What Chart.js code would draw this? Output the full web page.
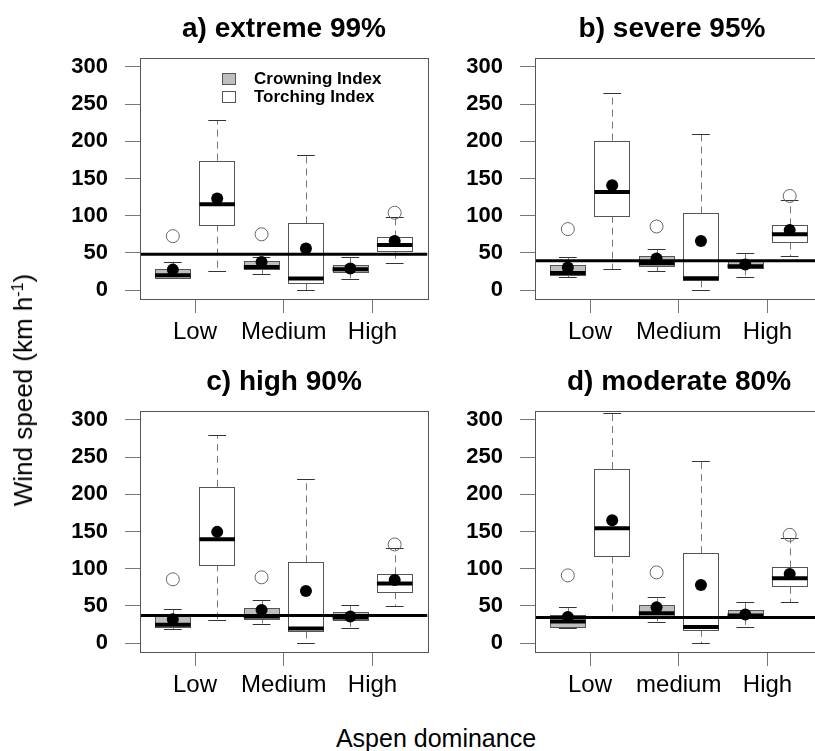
<!DOCTYPE html>
<html>
<head>
<meta charset="utf-8">
<script src="https://cdn.jsdelivr.net/npm/chart.js@4.4.0/dist/chart.umd.min.js"></script>
<style>
html,body{margin:0;padding:0;background:#fff;}
body{width:815px;height:751px;overflow:hidden;position:relative;font-family:"Liberation Sans",Arial,sans-serif;color:#000;}
canvas{position:absolute;}
#ytitle{position:absolute;left:23px;top:390px;transform:translate(-50%,-50%) rotate(-90deg);font-size:26px;white-space:nowrap;line-height:1;}
#ytitle sup{font-size:16px;line-height:0;vertical-align:9px;}
#xtitle{position:absolute;left:436px;top:738px;transform:translate(-50%,-50%);font-size:25px;white-space:nowrap;line-height:1;}
</style>
</head>
<body>
<canvas id="pa" width="435" height="355" style="left:0;top:0"></canvas>
<canvas id="pb" width="395" height="355" style="left:435px;top:0"></canvas>
<canvas id="pc" width="435" height="355" style="left:0;top:353px"></canvas>
<canvas id="pd" width="395" height="355" style="left:435px;top:353px"></canvas>
<div id="ytitle">Wind speed (km h<sup>-1</sup>)</div>
<div id="xtitle">Aspen dominance</div>
<script>
// ---------- data ----------
const categoriesABC = ["Low", "Medium", "High"];
const categoriesD = ["Low", "medium", "High"];
const legendLabels = ["Crowning Index", "Torching Index"];
const panelTitles = ["a) extreme 99%", "b) severe 95%", "c) high 90%", "d) moderate 80%"];
const yTicks = [0, 50, 100, 150, 200, 250, 300];
// box order: CI-Low, TI-Low, CI-Medium, TI-Medium, CI-High, TI-High
const boxPositions = [1, 2, 3, 4, 5, 6];
const boxSeries = [0, 1, 0, 1, 0, 1];

// a) extreme 99%
const aLower   = [16, 25.5, 21.5, 0, 15, 37];
const aQ1      = [17, 88, 28.7, 9, 25, 51.5];
const aMedian  = [20, 115.5, 31, 15.7, 28, 60.5];
const aQ3      = [29, 174, 39.4, 89.6, 34, 70.8];
const aUpper   = [38, 228, 44, 182, 44, 98.5];
const aMean    = [27.5, 123, 37.6, 56, 29, 66];
const aOutlier = [72.5, null, 75, null, null, 104];
const aThreshold = 48;

// b) severe 95%
const bLower   = [17, 28, 25, 0, 17.5, 45.7];
const bQ1      = [20.5, 100, 32, 13, 29, 64];
const bMedian  = [23, 132, 36, 16, 32, 75];
const bQ3      = [33.6, 201, 45.7, 103, 39, 87];
const bUpper   = [44, 265.5, 54.6, 210, 50, 121];
const bMean    = [30.5, 141, 42.5, 66, 34.5, 80.6];
const bOutlier = [82, null, 85.5, null, null, 126.5];
const bThreshold = 39.5;

// c) high 90%
const cLower   = [18.7, 30.4, 26.3, 0, 20, 50];
const cQ1      = [21.4, 105.8, 33.5, 15.6, 31.2, 68.3];
const cMedian  = [24.5, 139.7, 35.7, 19.6, 34.4, 80];
const cQ3      = [36.6, 210, 47.8, 108.5, 41.5, 92.4];
const cUpper   = [45.5, 279.5, 57.6, 221, 51, 127.7];
const cMean    = [32, 149.5, 44.6, 70, 35.7, 84.8];
const cOutlier = [85.7, null, 88.4, null, null, 132.6];
const cThreshold = 37;

// d) moderate 80%
const dLower   = [19.7, 35.8, 29, 0, 21.5, 55];
const dQ1      = [22.4, 116.4, 35, 18, 34, 75.7];
const dMedian  = [29, 154.5, 40, 21.5, 37, 87];
const dQ3      = [38, 234, 50.6, 121, 44.3, 101.7];
const dUpper   = [48, 309, 61.4, 245, 55, 141];
const dMean    = [35, 165, 48, 78, 38.5, 93];
const dOutlier = [91, null, 95, null, null, 145.5];
const dThreshold = 34.5;

// ---------- drawing ----------
const FONT = '"Liberation Sans", Arial, sans-serif';
Chart.defaults.font.family = FONT;
const X_MIN = 0.26, X_MAX = 6.74, Y_MIN = -12, Y_MAX = 312;
const BOX_HALF = 0.4, CAP_HALF = 0.2;
const FILLS = ["#bebebe", "#ffffff"];
const tickPositions = [0, 2, 4].map(i => (boxPositions[i] + boxPositions[i + 1]) / 2);

const boxPlugin = {
  id: 'boxes',
  beforeDatasetsDraw(chart) {
    const st = chart.options.plugins.boxes;
    const xs = chart.scales.x, ys = chart.scales.y, ctx = chart.ctx;
    const ca = chart.chartArea;
    ctx.save();
    ctx.beginPath(); ctx.rect(ca.left, ca.top, ca.right - ca.left, ca.bottom - ca.top); ctx.clip();
    boxPositions.forEach((p, i) => {
      const xc = xs.getPixelForValue(p);
      const xl = xs.getPixelForValue(p - BOX_HALF), xr = xs.getPixelForValue(p + BOX_HALF);
      const cl = xs.getPixelForValue(p - CAP_HALF), cr = xs.getPixelForValue(p + CAP_HALF);
      const yLo = ys.getPixelForValue(st.lower[i]), yQ1 = ys.getPixelForValue(st.q1[i]);
      const yMed = ys.getPixelForValue(st.median[i]), yQ3 = ys.getPixelForValue(st.q3[i]);
      const yUp = ys.getPixelForValue(st.upper[i]);
      const xcr = Math.round(xc) + 0.5;
      // whiskers
      ctx.strokeStyle = '#777'; ctx.lineWidth = 1; ctx.setLineDash([7, 5]);
      ctx.beginPath(); ctx.moveTo(xcr, yQ3); ctx.lineTo(xcr, yUp);
      ctx.moveTo(xcr, yQ1); ctx.lineTo(xcr, yLo); ctx.stroke();
      ctx.setLineDash([]);
      // caps
      ctx.strokeStyle = '#333';
      ctx.beginPath();
      ctx.moveTo(cl, Math.round(yUp) + 0.5); ctx.lineTo(cr, Math.round(yUp) + 0.5);
      ctx.moveTo(cl, Math.round(yLo) + 0.5); ctx.lineTo(cr, Math.round(yLo) + 0.5);
      ctx.stroke();
      // box
      ctx.fillStyle = FILLS[boxSeries[i]];
      const bx = Math.round(xl) + 0.5, bw = Math.round(xr - xl);
      const by = Math.round(yQ3) + 0.5, bh = Math.round(yQ1 - yQ3);
      ctx.fillRect(bx, by, bw, bh);
      ctx.strokeStyle = '#555'; ctx.lineWidth = 1;
      ctx.strokeRect(bx, by, bw, bh);
      // median
      ctx.strokeStyle = '#000'; ctx.lineWidth = 4;
      ctx.beginPath(); ctx.moveTo(xl, yMed); ctx.lineTo(xr, yMed); ctx.stroke();
    });
    ctx.restore();
  },
  afterDraw(chart) {
    const st = chart.options.plugins.boxes;
    const ctx = chart.ctx, ca = chart.chartArea;
    ctx.save();
    // frame
    ctx.strokeStyle = '#555'; ctx.lineWidth = 1;
    ctx.strokeRect(Math.round(ca.left) + 0.5, Math.round(ca.top) + 0.5,
                   Math.round(ca.right - ca.left), Math.round(ca.bottom - ca.top));
    // title
    ctx.fillStyle = '#000';
    ctx.font = 'bold 28px ' + FONT;
    ctx.textAlign = 'center'; ctx.textBaseline = 'middle';
    ctx.fillText(st.title, st.titleX, 29);
    // legend
    if (st.legend) {
      ctx.lineWidth = 1; ctx.strokeStyle = '#555';
      ctx.font = 'bold 17px ' + FONT;
      ctx.textAlign = 'left';
      legendLabels.forEach((lab, k) => {
        const yy = 73 + k * 18;
        ctx.fillStyle = FILLS[k];
        ctx.fillRect(222.5, yy + 0.5, 13, 11);
        ctx.strokeRect(222.5, yy + 0.5, 13, 11);
        ctx.fillStyle = '#000';
        ctx.fillText(lab, 254, yy + 6.5);
      });
    }
    ctx.restore();
  }
};

function makePanel(id, yAxisWidth, titleIdx, titleX, cats, s, showLegend) {
  const canvas = document.getElementById(id);
  const H = canvas.height;
  const meanPts = boxPositions.map((p, i) => ({ x: p, y: s.mean[i] }));
  const outPts = boxPositions.map((p, i) => ({ x: p, y: s.outlier[i] })).filter(d => d.y !== null);
  new Chart(canvas, {
    type: 'scatter',
    data: {
      datasets: [
        { label: 'mean', data: meanPts, order: 0, pointRadius: 6, pointBackgroundColor: '#000',
          pointBorderColor: '#000', pointBorderWidth: 0 },
        { label: 'threshold', type: 'line', order: 1,
          data: [{ x: X_MIN, y: s.threshold }, { x: X_MAX, y: s.threshold }],
          borderColor: '#000', borderWidth: 3, pointRadius: 0, showLine: true, fill: false },
        { label: 'outlier', data: outPts, order: 2, pointRadius: 6.5, pointBackgroundColor: 'rgba(255,255,255,0)',
          pointBorderColor: '#666', pointBorderWidth: 1 }
      ]
    },
    options: {
      responsive: false, animation: false, events: [], devicePixelRatio: 1,
      layout: { padding: { top: 58, right: 5, left: 0, bottom: 0 } },
      plugins: {
        legend: { display: false }, tooltip: { enabled: false },
        boxes: { lower: s.lower, q1: s.q1, median: s.median, q3: s.q3, upper: s.upper,
                 title: panelTitles[titleIdx], titleX: titleX, legend: showLegend }
      },
      scales: {
        x: {
          type: 'linear', min: X_MIN, max: X_MAX,
          afterBuildTicks: sc => { sc.ticks = tickPositions.map(v => ({ value: v })); },
          afterFit: sc => { sc.height = H - 299; },
          grid: { drawOnChartArea: false, drawTicks: true, tickLength: 14, color: '#777' },
          border: { display: false },
          ticks: { autoSkip: false, maxRotation: 0, padding: 5, color: '#000',
                   font: { size: 24 }, callback: (v, i) => cats[i] }
        },
        y: {
          type: 'linear', min: Y_MIN, max: Y_MAX,
          afterBuildTicks: sc => { sc.ticks = yTicks.map(v => ({ value: v })); },
          afterFit: sc => { sc.width = yAxisWidth; },
          grid: { drawOnChartArea: false, drawTicks: true, tickLength: 15, color: '#777' },
          border: { display: false },
          ticks: { padding: 17, color: '#000', font: { size: 22, weight: 'bold' } }
        }
      }
    },
    plugins: [boxPlugin]
  });
}

makePanel('pa', 140, 0, 284, categoriesABC,
  { lower: aLower, q1: aQ1, median: aMedian, q3: aQ3, upper: aUpper, mean: aMean, outlier: aOutlier, threshold: aThreshold }, true);
makePanel('pb', 100, 1, 237, categoriesABC,
  { lower: bLower, q1: bQ1, median: bMedian, q3: bQ3, upper: bUpper, mean: bMean, outlier: bOutlier, threshold: bThreshold }, false);
makePanel('pc', 140, 2, 284, categoriesABC,
  { lower: cLower, q1: cQ1, median: cMedian, q3: cQ3, upper: cUpper, mean: cMean, outlier: cOutlier, threshold: cThreshold }, false);
makePanel('pd', 100, 3, 244, categoriesD,
  { lower: dLower, q1: dQ1, median: dMedian, q3: dQ3, upper: dUpper, mean: dMean, outlier: dOutlier, threshold: dThreshold }, false);
</script>
</body>
</html>
